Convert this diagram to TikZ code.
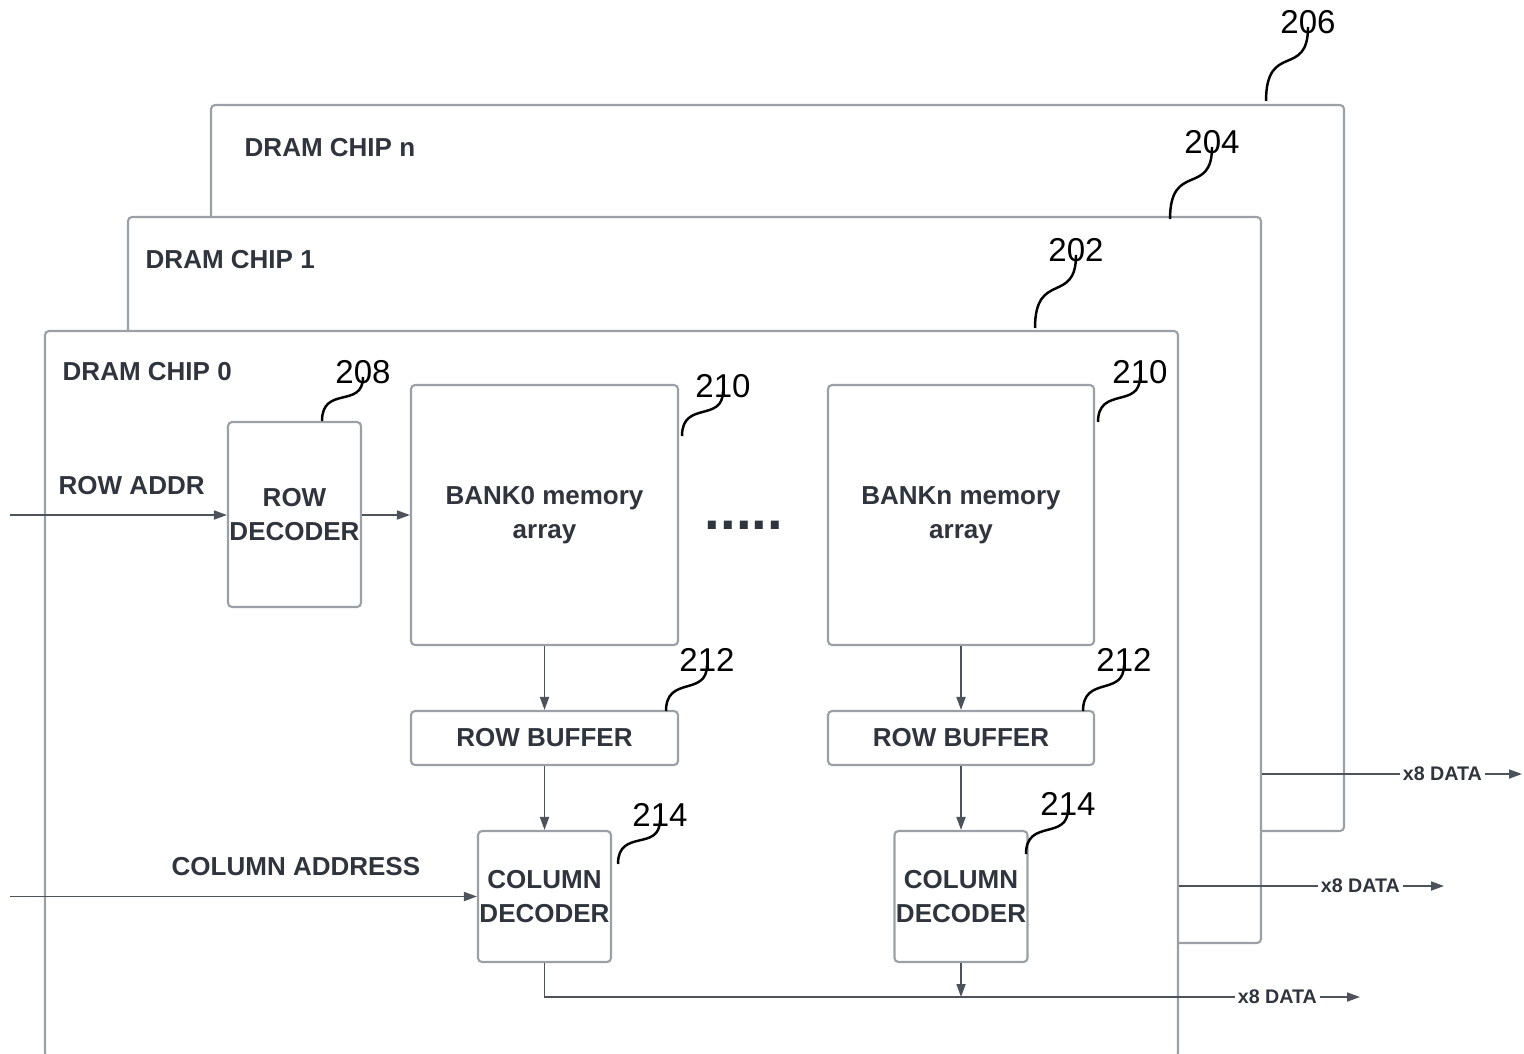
\documentclass[tikz,border=0pt]{standalone}
\usepackage{fontspec}
\setmainfont{Liberation Sans}
\usetikzlibrary{arrows.meta}

\definecolor{boxgray}{HTML}{9AA0A6}
\definecolor{wiregray}{HTML}{4D535B}
\definecolor{inkgray}{HTML}{30353D}

\begin{document}
\begin{tikzpicture}[x=0.1mm, y=-0.1mm, >={Triangle[length=1.3mm,width=0.9mm]},
  chip/.style={draw=boxgray, line width=0.6pt, fill=white, rounded corners=0.4mm,
    inner sep=0pt, minimum width=113.3mm, minimum height=72.6mm},
  blk/.style={draw=boxgray, line width=0.6pt, rounded corners=0.4mm, inner sep=0pt,
    align=center, text=inkgray, font=\bfseries\fontsize{7.4}{9.8}\selectfont},
  lbl/.style={anchor=west, inner sep=0pt, text=inkgray, font=\bfseries\fontsize{7.4}{9}\selectfont},
  datalbl/.style={anchor=west, inner sep=0.6pt, text=inkgray, font=\bfseries\fontsize{5.6}{7}\selectfont},
  wire/.style={draw=wiregray, line width=0.5pt},
  refnum/.style={inner sep=0pt, font=\fontsize{9.4}{11}\selectfont},
  leaderline/.style={line width=0.7pt}]
  \useasboundingbox (0,0) rectangle (1524,1053);
  \clip (0,0) rectangle (1524,1053);

  % the three chips, back to front
  \node[chip] (chipn) at (777.5,468) {};
  \node[lbl] (chipnname) at (244,148) {DRAM CHIP n};
  \node[chip] (chipone) at (694.5,580) {};
  \node[lbl] (chiponename) at (145,260) {DRAM CHIP 1};
  \node[chip] (chipzero) at (611.5,694) {};
  \node[lbl] (chipzeroname) at (62,372) {DRAM CHIP 0};

  % blocks of chip 0
  \node[blk, minimum width=13.3mm, minimum height=18.5mm] (rowdec) at (294.5,514.5) {ROW\\DECODER};
  \node[blk, minimum width=26.7mm, minimum height=26mm] (bankzero) at (544.5,515) {BANK0 memory\\array};
  \node[blk, minimum width=26.6mm, minimum height=26mm] (bankn) at (961,515) {BANKn memory\\array};
  \node[blk, minimum width=26.7mm, minimum height=5.4mm] (rowbufzero) at (544.5,738) {ROW BUFFER};
  \node[blk, minimum width=26.6mm, minimum height=5.4mm] (rowbufn) at (961,738) {ROW BUFFER};
  \node[blk, minimum width=13.3mm, minimum height=13.1mm] (coldeczero) at (544.5,896.5) {COLUMN\\DECODER};
  \node[blk, minimum width=13.3mm, minimum height=13.1mm] (coldecn) at (961,896.5) {COLUMN\\DECODER};
  \node[inner sep=0pt, anchor=base, text=inkgray, font=\bfseries\fontsize{16}{16}\selectfont] (dots) at (744,529) {.....};

  % address inputs
  \coordinate (rowin) at (10,515);
  \coordinate (colin) at (10,896.5);
  \node[lbl] (rowaddr) at (58,486) {ROW ADDR};
  \node[lbl] (coladdr) at (171,867) {COLUMN ADDRESS};
  \draw[wire,->] (rowin) -- (rowin -| rowdec.west);
  \draw[wire,->] (rowdec.east |- bankzero.west) -- (bankzero.west);
  \draw[wire,->] (colin) -- (coldeczero.west);

  % bank -> row buffer -> column decoder
  \draw[wire,->] (bankzero.south) -- (rowbufzero.north);
  \draw[wire,->] (rowbufzero.south) -- (coldeczero.north);
  \draw[wire,->] (bankn.south) -- (rowbufn.north);
  \draw[wire,->] (rowbufn.south) -- (coldecn.north);

  % data outputs
  \node[datalbl] (datazero) at (1235,997) {x8 DATA};
  \node[datalbl] (dataone) at (1318,886) {x8 DATA};
  \node[datalbl] (datan) at (1400,774) {x8 DATA};
  \coordinate (outzero) at (1360,997);
  \coordinate (outone) at (1444,886);
  \coordinate (outn) at (1522,774);
  \draw[wire] (coldeczero.south) |- (datazero.west);
  \draw[wire,->] (coldecn.south) -- (coldecn.south |- datazero.west);
  \draw[wire,->] (datazero.east) -- (outzero);
  \draw[wire] (chipzero.east |- dataone.west) -- (dataone.west);
  \draw[wire,->] (dataone.east) -- (outone);
  \draw[wire] (chipone.east |- datan.west) -- (datan.west);
  \draw[wire,->] (datan.east) -- (outn);

  % reference numerals
  \node[refnum] (rn206) at (1308,22) {206};
  \node[refnum] (rn204) at (1212,142) {204};
  \node[refnum] (rn202) at (1076,250) {202};
  \node[refnum] (rn208) at (363,372) {208};
  \node[refnum] (rn210a) at (723,386) {210};
  \node[refnum] (rn210b) at (1140,372) {210};
  \node[refnum] (rn212a) at (707,660) {212};
  \node[refnum] (rn212b) at (1124,660) {212};
  \node[refnum] (rn214a) at (660,815) {214};
  \node[refnum] (rn214b) at (1068,804) {214};
  \coordinate (ln206) at (1266,101);
  \coordinate (ln204) at (1170,219);
  \coordinate (ln202) at (1035,328);
  \coordinate (ln208) at (322,421);
  \coordinate (ln210a) at (682,436);
  \coordinate (ln210b) at (1098,422);
  \coordinate (ln212a) at (666,711);
  \coordinate (ln212b) at (1083,711);
  \coordinate (ln214a) at (618,864);
  \coordinate (ln214b) at (1026,854);
  \draw[leaderline] (ln206) .. controls +(0,-60) and +(0,52) .. ([yshift=-0.5mm]rn206.center);
  \draw[leaderline] (ln204) .. controls +(0,-58) and +(0,50) .. ([yshift=-0.5mm]rn204.center);
  \draw[leaderline] (ln202) .. controls +(0,-58) and +(0,50) .. ([yshift=-0.5mm]rn202.center);
  \draw[leaderline] (ln208) .. controls +(0,-36) and +(0,32) .. ([yshift=-0.5mm]rn208.center);
  \draw[leaderline] (ln210a) .. controls +(0,-36) and +(0,32) .. ([yshift=-0.5mm]rn210a.center);
  \draw[leaderline] (ln210b) .. controls +(0,-36) and +(0,32) .. ([yshift=-0.5mm]rn210b.center);
  \draw[leaderline] (ln212a) .. controls +(0,-36) and +(0,32) .. ([yshift=-0.5mm]rn212a.center);
  \draw[leaderline] (ln212b) .. controls +(0,-36) and +(0,32) .. ([yshift=-0.5mm]rn212b.center);
  \draw[leaderline] (ln214a) .. controls +(0,-36) and +(0,32) .. ([yshift=-0.5mm]rn214a.center);
  \draw[leaderline] (ln214b) .. controls +(0,-36) and +(0,32) .. ([yshift=-0.5mm]rn214b.center);
\end{tikzpicture}
\end{document}
